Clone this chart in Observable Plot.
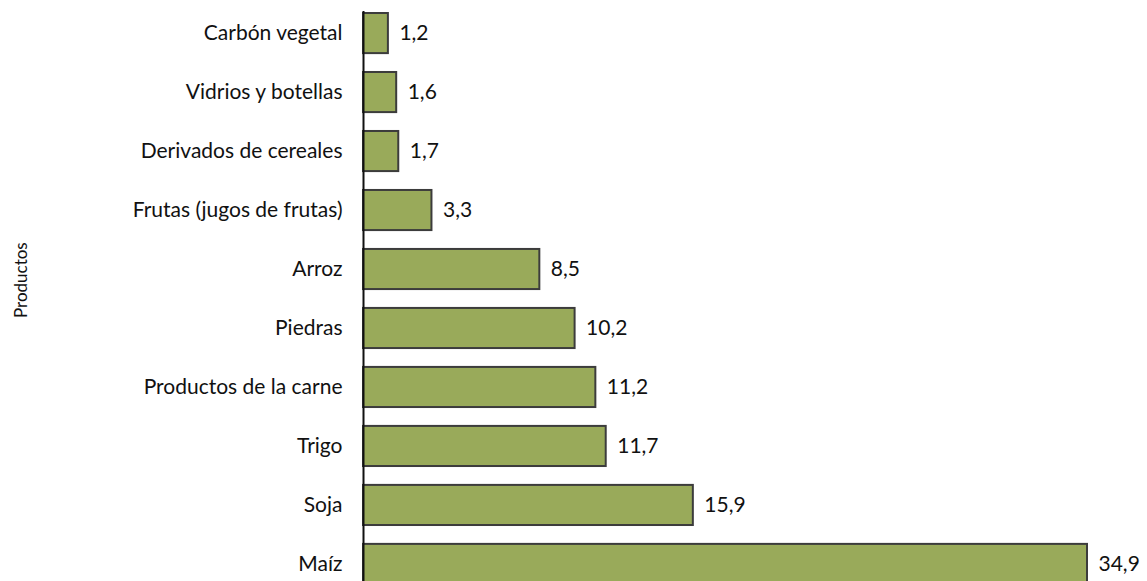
<!DOCTYPE html>
<html>
<head>
<meta charset="utf-8">
<script src="https://cdn.jsdelivr.net/npm/d3@7"></script>
<script src="https://cdn.jsdelivr.net/npm/@observablehq/plot@0.6"></script>
<style>
  html, body { margin: 0; padding: 0; background: #fff; overflow: hidden; }
  #chart svg { display: block; }
</style>
</head>
<body>
<div id="chart"></div>
<script>
const productos = ["Carbón vegetal", "Vidrios y botellas", "Derivados de cereales", "Frutas (jugos de frutas)", "Arroz", "Piedras", "Productos de la carne", "Trigo", "Soja", "Maíz"];
const valores = [1.2, 1.6, 1.7, 3.3, 8.5, 10.2, 11.2, 11.7, 15.9, 34.9];
const ejeTitulo = ["Productos"];

const data = productos.map((p, i) => ({producto: p, valor: valores[i]}));
const fmt = v => v.toFixed(1).replace(".", ",");
const font = "Lato, 'Open Sans', sans-serif";

const chart = Plot.plot({
  width: 1147,
  height: 586,
  marginTop: 11,
  marginBottom: 0,
  marginLeft: 363,
  marginRight: 0,
  style: {fontFamily: font, fontSize: "21px", color: "#111", background: "#fff"},
  x: {domain: [0, 34.9], range: [363, 1087], axis: null},
  y: {domain: productos, paddingInner: 0.32, paddingOuter: 0.034, round: false, label: null},
  marks: [
    Plot.barX(data, {x: "valor", y: "producto", fill: "#99aa5a", stroke: "#3c3c3c", strokeWidth: 2}),
    Plot.text(data, {x: "valor", y: "producto", text: d => fmt(d.valor), textAnchor: "start", dx: 11, fontSize: 21, fill: "#111"}),
    Plot.axisY({tickSize: 0, tickPadding: 21, fontSize: 21, label: null}),
    Plot.text(ejeTitulo, {frameAnchor: "left", dx: -342, dy: 19, rotate: -90, fontSize: 17, fill: "#111"}),
    Plot.ruleX([0], {stroke: "#111", strokeWidth: 2})
  ]
});
document.getElementById("chart").appendChild(chart);
</script>
</body>
</html>
